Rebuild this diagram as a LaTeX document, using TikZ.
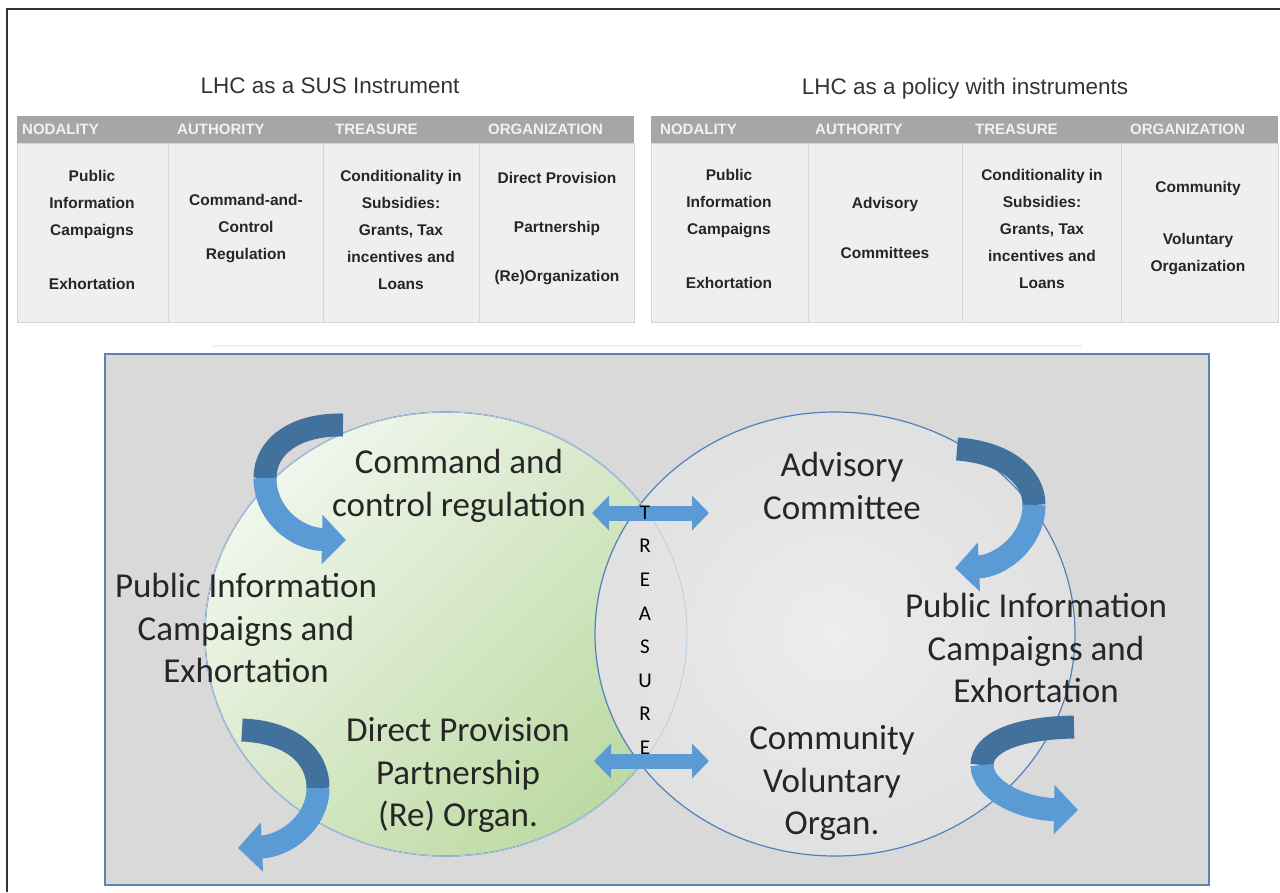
\documentclass[tikz,border=0pt]{standalone}
\usepackage{fontspec}
\setmainfont{Liberation Sans}
\newfontfamily\calib{Carlito}
\usetikzlibrary{arrows.meta}

\definecolor{hdrgray}{HTML}{A6A6A6}
\definecolor{cellgray}{HTML}{EFEFEF}
\definecolor{cellline}{HTML}{D6D6D6}
\definecolor{boxgray}{HTML}{D9D9D9}
\definecolor{boxblue}{HTML}{5A84B4}
\definecolor{ringblue}{HTML}{4F81BD}
\definecolor{arrlight}{HTML}{5B9BD5}
\definecolor{arrdark}{HTML}{41719C}
\definecolor{greenlight}{HTML}{F0F6EC}
\definecolor{greendark}{HTML}{BCDAA2}

\tikzset{
  titletext/.style={font=\fontsize{22.5}{26}\selectfont, text=black!80, inner sep=0pt},
  hdrtext/.style={anchor=west, font=\fontsize{15}{15}\selectfont\bfseries, text=white!95!black, inner sep=0pt},
  celltext/.style={align=center, font=\fontsize{15.5}{27}\selectfont\bfseries, text=black!85, inner sep=0pt},
  bigtext/.style={align=center, font=\calib\fontsize{35}{42.5}\selectfont, text=black!85, inner sep=0pt},
  treas/.style={font=\calib\fontsize{21}{21}\selectfont, text=black, inner sep=0pt},
  backband/.style={draw=arrdark, line width=23pt},
  frontband/.style={draw=arrlight, line width=23pt, -{Triangle[length=24pt,width=48pt]}},
  dblarrow/.style={draw=arrlight, line width=15pt, {Triangle[length=17pt,width=34pt]}-{Triangle[length=17pt,width=34pt]}}
}

\begin{document}
\begin{tikzpicture}[x=1pt, y=-1pt]
  \useasboundingbox (0,0) rectangle (1280,892);
  % outer frame
  \draw[line width=2.5pt, black!80] (7,892) -- (7,9) -- (1280,9);

  % the two tables
  \node[titletext] (ttl1) at (330,86) {LHC as a SUS Instrument};
  \node[titletext] (ttl2) at (965,89) {LHC as a policy with instruments};
  \foreach \tl/\tr in {17/634, 651/1278}{
    \fill[hdrgray] (\tl,116) rectangle (\tr,143);
    \draw[cellline, fill=cellgray] (\tl,143) rectangle (\tr,322);
  }
  \foreach \x in {168,323,479,808,962,1121}
    \draw[cellline] (\x,143) -- (\x,322);
  \foreach \hx/\hname/\hid in {22/NODALITY/1, 177/AUTHORITY/2, 335/TREASURE/3, 488/ORGANIZATION/4,
                               660/NODALITY/5, 815/AUTHORITY/6, 975/TREASURE/7, 1130/ORGANIZATION/8}
    \node[hdrtext] (hd\hid) at (\hx,129) {\hname};

  \node[celltext] (sus1) at (92,230) {Public\\Information\\Campaigns\\[27pt]Exhortation};
  \node[celltext] (sus2) at (246,229) {Command-and-\\Control\\Regulation};
  \node[celltext] (sus3) at (401,230) {Conditionality in\\Subsidies:\\Grants, Tax\\incentives and\\Loans};
  \node[celltext] (sus4) at (557,229) {Direct Provision\\[22pt]Partnership\\[22pt](Re)Organization};
  \node[celltext] (pol1) at (729,229) {Public\\Information\\Campaigns\\[27pt]Exhortation};
  \node[celltext] (pol2) at (885,228) {Advisory\\[23pt]Committees};
  \node[celltext] (pol3) at (1042,229) {Conditionality in\\Subsidies:\\Grants, Tax\\incentives and\\Loans};
  \node[celltext] (pol4) at (1198,228) {Community\\[25pt]Voluntary\\Organization};

  % faint rule and the big box
  \draw[black!6, line width=1.5pt] (213,346) -- (1082,346);
  \draw[boxblue, line width=2.5pt, fill=boxgray] (105,354) rectangle (1209,885);

  % the two rings
  \shade[top color=greenlight, bottom color=greendark, shading angle=45]
    (446,634) ellipse [x radius=241pt, y radius=222pt];
  \draw[ringblue, line width=1.2pt] (446,634) ellipse [x radius=241pt, y radius=222pt];
  \shade[inner color=black!7, outer color=black!12]
    (835,634) ellipse [x radius=240pt, y radius=222pt];
  \draw[ringblue, line width=1.2pt] (835,634) ellipse [x radius=240pt, y radius=222pt];
  \draw[ringblue!40, line width=0.8pt] (446,634) ellipse [x radius=241pt, y radius=222pt];

  % curved arrows
  \coordinate (cl1) at (265,478);
  \draw[backband] (343,425) .. controls (296,424) and (265,446) .. (cl1);
  \draw[frontband] (cl1) .. controls (265,514) and (296,539) .. (346,540);
  \coordinate (cr1) at (1034,505);
  \draw[backband] (957,449) .. controls (1002,452) and (1034,474) .. (cr1);
  \draw[frontband] (cr1) .. controls (1034,540) and (1002,566) .. (955,568);
  \coordinate (cl2) at (318,788);
  \draw[backband] (242,730) .. controls (290,732) and (318,755) .. (cl2);
  \draw[frontband] (cl2) .. controls (318,822) and (286,846) .. (238,848);
  \coordinate (cr2) at (982,765);
  \draw[backband] (1074,727) .. controls (1018,728) and (982,742) .. (cr2);
  \draw[frontband] (cr2) .. controls (982,790) and (1022,809) .. (1078,810);

  % treasure links
  \coordinate (lnk1a) at (592,513);
  \coordinate (lnk1b) at (709,513);
  \coordinate (lnk2a) at (594,761);
  \coordinate (lnk2b) at (709,761);
  \draw[dblarrow] (lnk1a) -- (lnk1b);
  \draw[dblarrow] (lnk2a) -- (lnk2b);
  \foreach \ch [count=\i] in {T,R,E,A,S,U,R,E}
    \node[treas] (tr\i) at (645,{479+\i*33.6}) {\ch};

  % labels in the rings
  \node[bigtext] (cmd) at (459,486) {Command and\\control regulation};
  \node[bigtext] (pubL) at (246,628) {Public Information\\Campaigns and\\Exhortation};
  \node[bigtext] (dirp) at (458,775) {Direct Provision\\Partnership\\(Re) Organ.};
  \node[bigtext] (adv) at (842,486) {Advisory\\Committee};
  \node[bigtext] (pubR) at (1036,648) {Public Information\\Campaigns and\\Exhortation};
  \node[bigtext] (comm) at (832,783) {Community\\Voluntary\\Organ.};
\end{tikzpicture}
\end{document}
